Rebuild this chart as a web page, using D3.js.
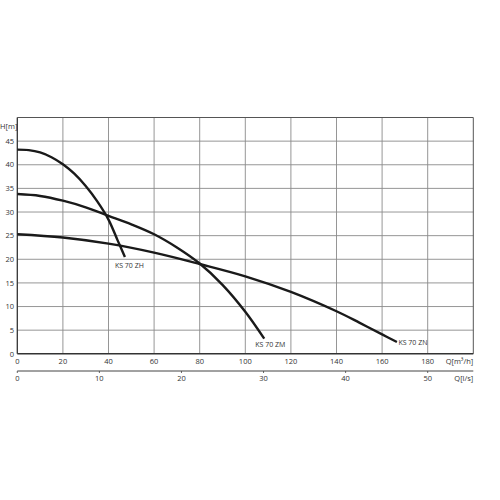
<!DOCTYPE html>
<html>
<head>
<meta charset="utf-8">
<script src="https://cdn.jsdelivr.net/npm/d3@7"></script>
<style>
  body { margin: 0; background: #fff; }
  svg text { font-family: 'Open Sans', sans-serif; font-size: 7.5px; fill: #333; }
</style>
</head>
<body>
<svg id="chart" width="500" height="500"></svg>
<script>
// pump curves, Q in m³/h, H in m
const zhQ = [0, 5, 10, 15, 20, 25, 30, 35, 40, 44, 47.2];
const zhH = [43.2, 43.1, 42.6, 41.6, 40.1, 38.1, 35.5, 32.3, 28.4, 24, 20.5];

const zmQ = [0, 10, 20, 30, 40, 50, 60, 70, 80, 90, 100, 108.3];
const zmH = [33.8, 33.4, 32.4, 31, 29.2, 27.4, 25.3, 22.5, 19.1, 14.6, 8.9, 3.2];

const znQ = [0, 20, 40, 60, 80, 100, 120, 140, 150, 160, 166.5];
const znH = [25.3, 24.6, 23.3, 21.4, 19, 16.4, 13.1, 9.0, 6.6, 4.1, 2.5];

const curveNames = ["KS 70 ZH", "KS 70 ZM", "KS 70 ZN"];

const yTicks = [0, 5, 10, 15, 20, 25, 30, 35, 40, 45];
const xTicks = [0, 20, 40, 60, 80, 100, 120, 140, 160, 180];
const lsTicks = [0, 10, 20, 30, 40, 50];

const svg = d3.select("#chart");
const plot = { left: 17.3, right: 473.3, top: 117.5, bottom: 353.8 };

const x = d3.scaleLinear().domain([0, 200]).range([plot.left, plot.right]);
const y = d3.scaleLinear().domain([0, 50]).range([plot.bottom, plot.top]);
// second axis l/s -> 1 l/s = 3.6 m³/h
const xls = d3.scaleLinear().domain([0, 200 / 3.6]).range([plot.left, plot.right]);

// grid
svg.append("g")
  .selectAll("line")
  .data(xTicks.slice(1))
  .enter()
  .append("line")
  .attr("x1", d => x(d)).attr("x2", d => x(d))
  .attr("y1", plot.top).attr("y2", plot.bottom)
  .attr("stroke", "#8a8a8a").attr("stroke-width", 0.9);

svg.append("g")
  .selectAll("line")
  .data(yTicks.slice(1))
  .enter()
  .append("line")
  .attr("x1", plot.left).attr("x2", plot.right)
  .attr("y1", d => y(d)).attr("y2", d => y(d))
  .attr("stroke", "#8a8a8a").attr("stroke-width", 0.9);

// frame
svg.append("line").attr("x1", plot.left).attr("x2", plot.right).attr("y1", plot.top).attr("y2", plot.top)
  .attr("stroke", "#555").attr("stroke-width", 1);
svg.append("line").attr("x1", plot.right).attr("x2", plot.right).attr("y1", plot.top).attr("y2", plot.bottom)
  .attr("stroke", "#555").attr("stroke-width", 1);
svg.append("line").attr("x1", plot.left).attr("x2", plot.left).attr("y1", plot.top).attr("y2", plot.bottom)
  .attr("stroke", "#333").attr("stroke-width", 1.3);
svg.append("line").attr("x1", plot.left).attr("x2", plot.right).attr("y1", plot.bottom).attr("y2", plot.bottom)
  .attr("stroke", "#333").attr("stroke-width", 1.6);

// y tick labels
svg.append("g")
  .selectAll("text")
  .data(yTicks)
  .enter()
  .append("text")
  .attr("x", 14)
  .attr("y", d => y(d) + 2.7)
  .attr("text-anchor", "end")
  .text(d => d);

svg.append("text").attr("x", 0).attr("y", 128.5).text("H[m]");

// x tick labels (m³/h)
svg.append("g")
  .selectAll("text")
  .data(xTicks)
  .enter()
  .append("text")
  .attr("x", d => x(d))
  .attr("y", 363.5)
  .attr("text-anchor", "middle")
  .text(d => d);

svg.append("text").attr("x", plot.right).attr("y", 363.5).attr("text-anchor", "end").text("Q[m³/h]");

// second axis (l/s)
const lsAxis = svg.append("g").attr("transform", "translate(0,371)");
lsAxis.append("line").attr("x1", plot.left).attr("x2", plot.right)
  .attr("stroke", "#444").attr("stroke-width", 1);
lsAxis.selectAll("line.tick")
  .data(lsTicks)
  .enter()
  .append("line")
  .attr("class", "tick")
  .attr("x1", d => xls(d)).attr("x2", d => xls(d))
  .attr("y1", 0).attr("y2", 2)
  .attr("stroke", "#444").attr("stroke-width", 0.8);
lsAxis.selectAll("text")
  .data(lsTicks)
  .enter()
  .append("text")
  .attr("x", d => xls(d))
  .attr("y", 9.5)
  .attr("text-anchor", "middle")
  .text(d => d);
lsAxis.append("text").attr("x", plot.right).attr("y", 9.5).attr("text-anchor", "end").text("Q[l/s]");

// curves
const series = [
  { name: curveNames[0], pts: zhQ.map((q, i) => [q, zhH[i]]) },
  { name: curveNames[1], pts: zmQ.map((q, i) => [q, zmH[i]]) },
  { name: curveNames[2], pts: znQ.map((q, i) => [q, znH[i]]) }
];

const line = d3.line()
  .x(d => x(d[0]))
  .y(d => y(d[1]))
  .curve(d3.curveCatmullRom.alpha(0.5));

svg.append("g")
  .selectAll("path")
  .data(series)
  .enter()
  .append("path")
  .attr("d", d => line(d.pts))
  .attr("fill", "none")
  .attr("stroke", "#1a1a1a")
  .attr("stroke-width", 2.4);

// curve labels, placed at the end of each curve
const labelOffset = [[-10, 11], [-9, 8], [1.5, 3]];
svg.append("g")
  .selectAll("text")
  .data(series)
  .enter()
  .append("text")
  .attr("x", (d, i) => x(d.pts[d.pts.length - 1][0]) + labelOffset[i][0])
  .attr("y", (d, i) => y(d.pts[d.pts.length - 1][1]) + labelOffset[i][1])
  .style("font-size", "7px")
  .text(d => d.name);
</script>
</body>
</html>
